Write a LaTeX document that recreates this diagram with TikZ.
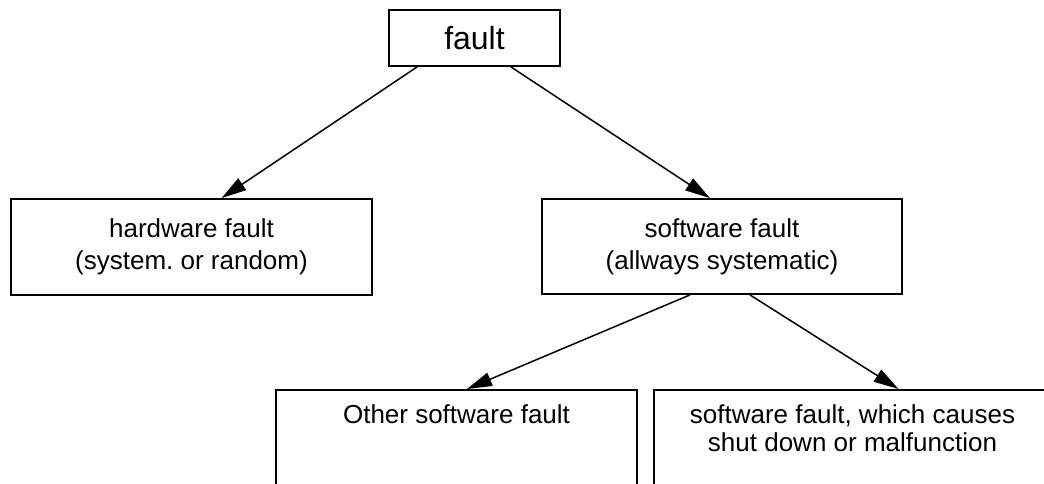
\documentclass[tikz,border=0pt]{standalone}
\usepackage{fontspec}
\setmainfont{Liberation Sans}
\usetikzlibrary{arrows.meta,positioning}

\tikzset{
  box/.style={draw, line width=1.8pt, align=center, inner sep=0pt, font=\fontsize{26}{32}\selectfont},
  lowbox/.style={draw, line width=1.8pt, anchor=north, minimum height=140pt, inner sep=0pt},
  lowtext/.style={align=center, inner sep=0pt, anchor=north, font=\fontsize{26}{28}\selectfont},
  arr/.style={-{Triangle[length=25pt,width=14pt]}, line width=1.5pt}
}

\begin{document}
\begin{tikzpicture}[x=1pt, y=-1pt]

\clip (0,0) rectangle (1044,483);

\node[box, minimum width=171pt, minimum height=56pt, font=\fontsize{32}{38}\selectfont] (fault) at (474.5,38) {fault};

\node[box, minimum width=361pt, minimum height=96pt] (hw) at (191.5,247) {hardware fault\\(system.\ or random)};

\node[box, minimum width=360pt, minimum height=95pt] (sw) at (722,246.5) {software fault\\(allways systematic)};

% lower boxes run off the bottom edge
\node[lowbox, minimum width=361pt] (other) at (456.5,389) {};
\node[lowtext, below=15pt of other.north] (othertxt) {Other software fault};

\node[lowbox, minimum width=397pt] (shut) at (852.5,389) {};
\node[lowtext, below=15pt of shut.north] (shuttxt) {software fault, which causes\\shut down or malfunction};


\draw[arr] ([xshift=29pt]fault.south west) -- ([xshift=30pt]hw.north);

\draw[arr] ([xshift=-50pt]fault.south east) -- ([xshift=-12pt]sw.north);

\draw[arr] ([xshift=-32pt]sw.south) -- ([xshift=10.5pt]other.north);

\draw[arr] ([xshift=28pt]sw.south) -- ([xshift=46pt]shut.north);

\end{tikzpicture}
\end{document}
